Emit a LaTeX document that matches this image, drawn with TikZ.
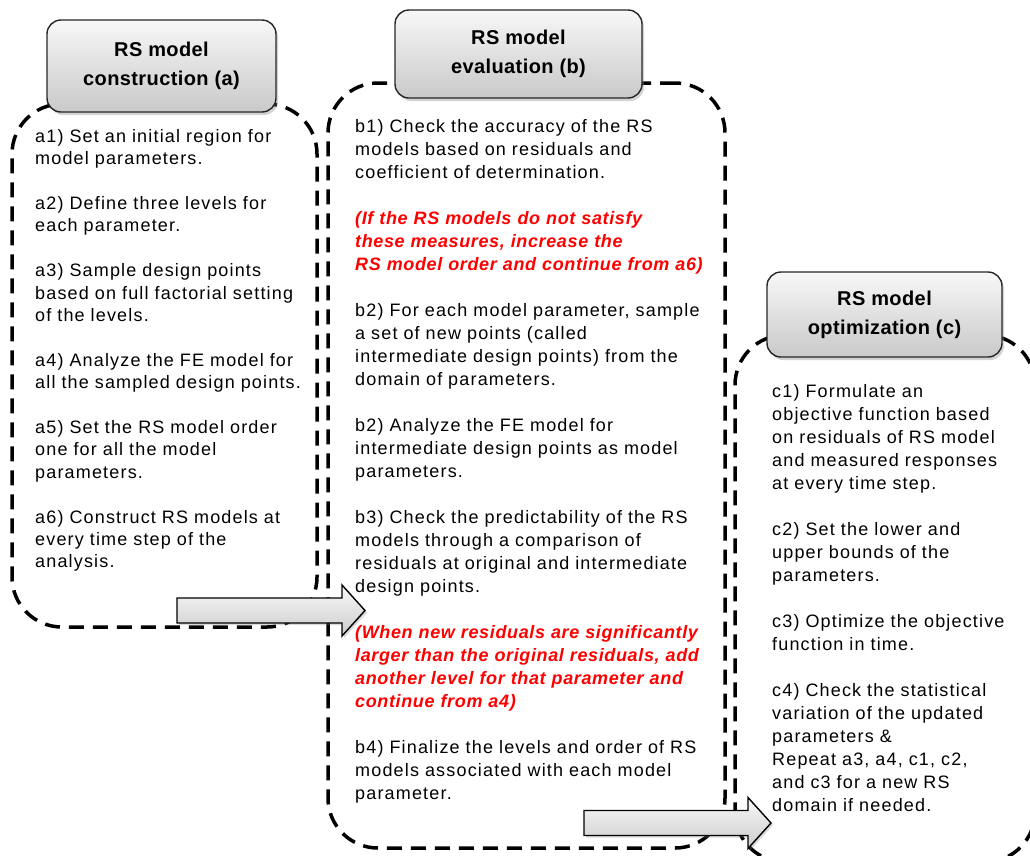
\documentclass[tikz,border=0pt]{standalone}
\usepackage{fontspec}
\setmainfont{Liberation Sans}
\newfontfamily\stepfont{Liberation Sans}[LetterSpace=6.5]
\newfontfamily\notefont{Liberation Sans}[LetterSpace=3.5]
\newfontfamily\headfont{Liberation Sans}[LetterSpace=2]
\usetikzlibrary{shadows}
\newcommand\skipline{\\[\baselineskip]}

\begin{document}
\begin{tikzpicture}[x=1pt,y=1pt,
    frame/.style={draw,line width=3.5pt,dash pattern=on 15pt off 9pt,%
      rounded corners=50pt,inner sep=0pt,outer sep=0pt},
    head/.style={draw=black!85,line width=1.4pt,rounded corners=14pt,%
      top color=gray!6,bottom color=gray!42,align=center,inner sep=0pt,%
      drop shadow={opacity=0.35,shadow xshift=2pt,shadow yshift=-3pt},%
      font=\headfont\bfseries\fontsize{20}{29}\selectfont},
    steps/.style={anchor=north west,align=left,inner sep=0pt,text width=380pt,%
      font=\stepfont\fontsize{18}{#1}\selectfont},
    steps/.default=23pt,
    bigarrow/.style={draw=black,line width=1.4pt,top color=gray!5,bottom color=gray!40,%
      drop shadow={opacity=0.3,shadow xshift=2pt,shadow yshift=-2pt}}]
      \useasboundingbox (0,0) rectangle (1030,-855) ;
      \clip (0,0) rectangle (1030,-855) ;
      % dashed frames
      \node[frame,minimum width=305pt,minimum height=523pt] (framea) at (164.5,-365.5) {} ;
      \node[frame,minimum width=397pt,minimum height=765pt] (frameb) at (526.5,-465.5) {} ;
      \node[frame,minimum width=300pt,minimum height=527pt] (framec) at (885,-598.5) {} ;
      % steps
      \node[steps=22.4pt] (stepsa) at (35,-129) {a1) Set an initial region for\\
        model parameters.\skipline
        a2) Define three levels for\\ each parameter.\skipline
        a3) Sample design points\\ based on full factorial setting\\ of the levels.\skipline
        a4) Analyze the FE model for\\ all the sampled design points.\skipline
        a5) Set the RS model order\\ one for all the model\\ parameters.\skipline
        a6) Construct RS models at\\ every time step of the\\ analysis.} ;
      \node[steps] (stepsb) at (355,-119) {b1) Check the accuracy of the RS\\
        models based on residuals and\\ coefficient of determination.\skipline
        {\notefont\color{red}\bfseries\itshape (If the RS models do not satisfy\\
        these measures, increase the\\ RS model order and continue from a6)}\skipline
        b2) For each model parameter, sample\\ a set of new points (called\\
        intermediate design points) from the\\ domain of parameters.\skipline
        b2) Analyze the FE model for\\ intermediate design points as model\\
        parameters.\skipline
        b3) Check the predictability of the RS\\ models through a comparison of\\
        residuals at original and intermediate\\ design points.\skipline
        {\notefont\color{red}\bfseries\itshape (When new residuals are significantly\\
        larger than the original residuals, add\\ another level for that parameter and\\
        continue from a4)}\skipline
        b4) Finalize the levels and order of RS\\ models associated with each model\\
        parameter.} ;
      \node[steps] (stepsc) at (772,-384) {c1) Formulate an\\ objective function based\\
        on residuals of RS model\\ and measured responses\\ at every time step.\skipline
        c2) Set the lower and\\ upper bounds of the\\ parameters.\skipline
        c3) Optimize the objective\\ function in time.\skipline
        c4) Check the statistical\\ variation of the updated\\ parameters \&\\
        Repeat a3, a4, c1, c2,\\ and c3 for a new RS\\ domain if needed.} ;
      % block arrows a->b and b->c
      \coordinate (ab) at (177,-610.5) ;
      \coordinate (bc) at (584,-823) ;
      \foreach \p/\l in {ab/165,bc/164}
        \draw[bigarrow] (\p) ++(0,12.5) -- ++(\l,0) -- ++(0,13) -- ++(23,-25.5) %
          -- ++(-23,-25.5) -- ++(0,13) -- ++(-\l,0) -- cycle ;
      % titles
      \node[head,minimum width=229pt,minimum height=92pt] (heada) at (161.5,-66)
        {RS model\\construction (a)} ;
      \node[head,minimum width=247pt,minimum height=88pt] (headb) at (518.5,-54)
        {RS model\\evaluation (b)} ;
      \node[head,minimum width=235pt,minimum height=85pt] (headc) at (884.5,-314.5)
        {RS model\\optimization (c)} ;
    \end{tikzpicture}
\end{document}
